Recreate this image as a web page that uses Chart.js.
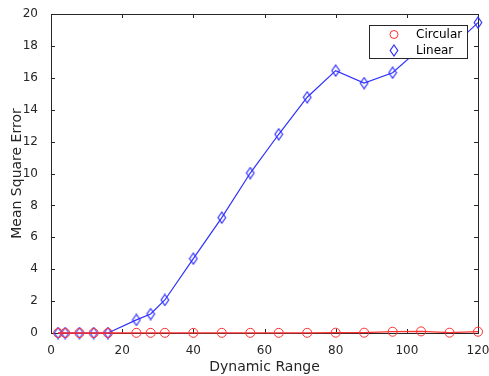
<!DOCTYPE html>
<html>
<head>
<meta charset="utf-8">
<script src="https://cdn.jsdelivr.net/npm/chart.js@4.4.0/dist/chart.umd.min.js"></script>
<style>
  html, body { margin: 0; padding: 0; background: #fff; }
  #wrap { width: 489px; height: 376px; }
</style>
</head>
<body>
<div id="wrap"><canvas id="mseChart" width="489" height="376"></canvas></div>
<script>
// values
const dynamicRange = [2, 4, 8, 12, 16, 24, 28, 32, 40, 48, 56, 64, 72, 80, 88, 96, 104, 112, 120];
const circularMSE = [0, 0, 0, 0, 0, 0.01, 0.01, 0.01, 0.01, 0.01, 0.01, 0.01, 0.01, 0.02, 0.02, 0.08, 0.1, 0.02, 0.08];
const linearMSE = [0, 0, 0, 0, 0, 0.82, 1.19, 2.07, 4.66, 7.23, 10.03, 12.46, 14.78, 16.45, 15.67, 16.32, 17.9, 17.8, 19.46];
const xTicks = [0, 20, 40, 60, 80, 100, 120];
const yTicks = [0, 2, 4, 6, 8, 10, 12, 14, 16, 18, 20];
const seriesNames = ['Circular', 'Linear'];

const FONT = '"DejaVu Sans", sans-serif';
const RED = '#ff3030';
const BLUE = '#3030ff';

function diamondMarker(color) {
  const c = document.createElement('canvas');
  c.width = 10; c.height = 13;
  const g = c.getContext('2d');
  g.strokeStyle = color;
  g.lineWidth = 1.2;
  g.beginPath();
  g.moveTo(5, 1); g.lineTo(8.8, 6.5); g.lineTo(5, 12); g.lineTo(1.2, 6.5);
  g.closePath();
  g.stroke();
  return c;
}
const diamond = diamondMarker(BLUE);

function toPoints(xs, ys) {
  return xs.map((x, i) => ({ x: x, y: ys[i] }));
}

// box around the plot with inward ticks, MATLAB style
const boxPlugin = {
  id: 'box',
  beforeDatasetsDraw(chart) {
    const { ctx, chartArea: a, scales } = chart;
    ctx.save();
    ctx.strokeStyle = '#262626';
    ctx.lineWidth = 1;
    ctx.strokeRect(Math.round(a.left) + 0.5, Math.round(a.top) + 0.5,
      Math.round(a.right - a.left), Math.round(a.bottom - a.top));
    ctx.beginPath();
    xTicks.forEach(v => {
      const px = Math.round(scales.x.getPixelForValue(v)) + 0.5;
      ctx.moveTo(px, a.bottom); ctx.lineTo(px, a.bottom - 4);
      ctx.moveTo(px, a.top); ctx.lineTo(px, a.top + 4);
    });
    yTicks.forEach(v => {
      const py = Math.round(scales.y.getPixelForValue(v)) + 0.5;
      ctx.moveTo(a.left, py); ctx.lineTo(a.left + 4, py);
      ctx.moveTo(a.right, py); ctx.lineTo(a.right - 4, py);
    });
    ctx.stroke();
    ctx.restore();
  },
  afterDatasetsDraw(chart) {
    const { ctx } = chart;
    ctx.save();
    // legend box
    const lx = 369, ly = 25, lw = 98, lh = 33;
    ctx.fillStyle = '#fff';
    ctx.fillRect(lx, ly, lw, lh);
    ctx.strokeStyle = '#262626';
    ctx.lineWidth = 1;
    ctx.strokeRect(lx + 0.5, ly + 0.5, lw, lh);
    ctx.font = '12px ' + FONT;
    ctx.textBaseline = 'middle';
    ctx.fillStyle = '#000';
    chart.data.datasets.forEach((ds, i) => {
      const y = ly + 9.5 + i * 16;
      if (i === 0) {
        ctx.strokeStyle = RED;
        ctx.beginPath(); ctx.arc(394, y, 4, 0, Math.PI * 2); ctx.stroke();
      } else {
        ctx.drawImage(diamond, 394 - 5, y - 6.5);
      }
      ctx.fillText(ds.label, 416, y);
    });
    ctx.restore();
  }
};

const ctx = document.getElementById('mseChart').getContext('2d');
new Chart(ctx, {
  type: 'line',
  data: {
    datasets: [{
      label: seriesNames[0],
      data: toPoints(dynamicRange, circularMSE),
      borderColor: RED,
      borderWidth: 1.3,
      pointStyle: 'circle',
      pointRadius: 4.5,
      pointBorderColor: RED,
      pointBackgroundColor: 'rgba(0,0,0,0)',
      pointBorderWidth: 1,
      tension: 0,
      clip: false
    }, {
      label: seriesNames[1],
      data: toPoints(dynamicRange, linearMSE),
      borderColor: BLUE,
      borderWidth: 1.2,
      pointStyle: diamond,
      tension: 0,
      clip: false
    }]
  },
  plugins: [boxPlugin],
  options: {
    responsive: false,
    animation: false,
    layout: { padding: { left: 9, right: 11, top: 14, bottom: 0 } },
    plugins: { legend: { display: false }, tooltip: { enabled: false } },
    scales: {
      x: {
        type: 'linear',
        min: 0, max: 120,
        afterBuildTicks(s) { s.ticks = xTicks.map(v => ({ value: v })); },
        afterFit(s) { s.height = 43; s.paddingLeft = 0; s.paddingRight = 0; },
        grid: { display: false },
        border: { display: false },
        ticks: { color: '#262626', font: { family: FONT, size: 12 }, padding: 3, maxRotation: 0 },
        title: { display: true, text: 'Dynamic Range', color: '#262626', font: { family: FONT, size: 14 }, padding: { top: 0, bottom: 0 } }
      },
      y: {
        type: 'linear',
        min: 0, max: 20,
        afterBuildTicks(s) { s.ticks = yTicks.map(v => ({ value: v })); },
        afterFit(s) { s.width = 42; s.paddingTop = 0; s.paddingBottom = 0; },
        grid: { display: false },
        border: { display: false },
        ticks: { color: '#262626', font: { family: FONT, size: 12 }, padding: 5 },
        title: { display: true, text: 'Mean Square Error', color: '#262626', font: { family: FONT, size: 14 }, padding: { top: 0, bottom: 0 } }
      }
    }
  }
});
</script>
</body>
</html>
